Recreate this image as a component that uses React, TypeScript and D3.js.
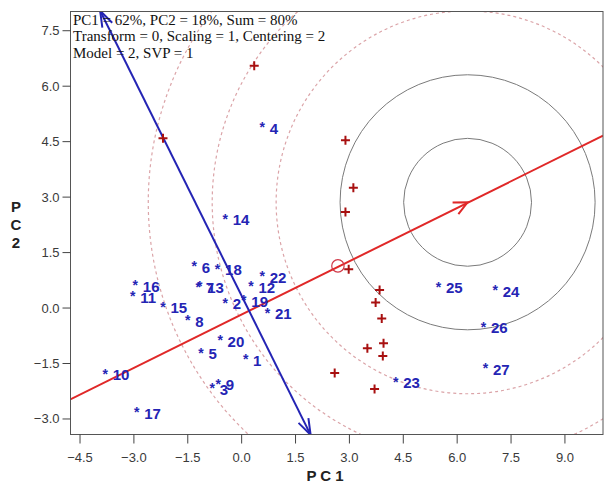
import React from "react";
import * as d3 from "d3";

// ---- data ----
const xTicks = [-4.5, -3.0, -1.5, 0.0, 1.5, 3.0, 4.5, 6.0, 7.5, 9.0];
const yTicks = [-3.0, -1.5, 0.0, 1.5, 3.0, 4.5, 6.0, 7.5];

const sampleIds = ["1","2","3","4","5","6","7","8","9","10","11","12","13","14","15","16","17","18","19","20","21","22","23","24","25","26","27"];
const sampleX = [0.11,-0.46,-0.82,0.57,-1.13,-1.32,-1.21,-1.50,-0.65,-3.80,-3.03,0.26,-1.17,-0.46,-2.19,-2.96,-2.92,-0.67,0.06,-0.60,0.72,0.57,4.29,7.06,5.48,6.73,6.79];
const sampleY = [-1.29,0.24,-2.08,4.99,-1.12,1.22,0.67,-0.23,-1.95,-1.68,0.42,0.68,0.69,2.51,0.13,0.71,-2.73,1.16,0.31,-0.78,-0.03,0.95,-1.90,0.58,0.67,-0.41,-1.54];

const varX = [0.35,-2.19,2.89,3.11,2.89,2.98,3.84,3.73,3.90,3.95,3.50,3.93,2.59,3.70];
const varY = [6.55,4.59,4.54,3.25,2.60,1.05,0.49,0.15,-0.28,-0.95,-1.09,-1.30,-1.76,-2.19];

// predicted-response axis (red) and response axis (blue)
const redAxisX = [-4.77, 10.06];
const redAxisY = [-2.47, 4.66];
const targetPoint = [6.29, 2.86];
const markedPoint = [2.68, 1.14];
const blueAxisX = [-3.94, 1.92];
const blueAxisY = [8.04, -3.43];

const solidRadii = [1.78, 3.55];
const dashedRadii = [5.33, 7.11, 8.89];

const infoLines = [
  "PC1 = 62%, PC2 = 18%, Sum = 80%",
  "Transform = 0, Scaling = 1, Centering = 2",
  "Model = 2, SVP = 1",
];

// ---- layout ----
const W = 604, H = 484;
const L = 70.5, R = 603, T = 11.5, B = 434.5;

const BLUE = "#2424b4";
const RED = "#e02828";
const DARKRED = "#a81010";

function arrowHead(tip: [number, number], from: [number, number], len: number, ang: number) {
  const a = Math.atan2(tip[1] - from[1], tip[0] - from[0]);
  const p1 = [tip[0] - len * Math.cos(a - ang), tip[1] - len * Math.sin(a - ang)];
  const p2 = [tip[0] - len * Math.cos(a + ang), tip[1] - len * Math.sin(a + ang)];
  return `M${p1[0]},${p1[1]}L${tip[0]},${tip[1]}L${p2[0]},${p2[1]}`;
}

export default function App() {
  const x = d3.scaleLinear().domain([-4.765, 10.06]).range([L, R]);
  const y = d3.scaleLinear().domain([-3.42, 8.02]).range([B, T]);
  const fmt = d3.format(".1f");
  const cx = x(targetPoint[0]), cy = y(targetPoint[1]);
  const pxPerUnit = x(1) - x(0);

  const rA: [number, number] = [x(redAxisX[0]), y(redAxisY[0])];
  const rB: [number, number] = [x(redAxisX[1]), y(redAxisY[1])];
  const bA: [number, number] = [x(blueAxisX[0]), y(blueAxisY[0])];
  const bB: [number, number] = [x(blueAxisX[1]), y(blueAxisY[1])];

  return (
    <svg width={W} height={H} style={{ position: "absolute", left: 0, top: 0, background: "#fff" }}>
      <defs>
        <clipPath id="plotclip">
          <rect x={L} y={T} width={R - L} height={B - T} />
        </clipPath>
      </defs>
      <rect x={0} y={0} width={W} height={H} fill="#fff" />

      <g clipPath="url(#plotclip)">
        {dashedRadii.map((r, i) => (
          <circle key={"d" + i} cx={cx} cy={cy} r={r * pxPerUnit} fill="none" stroke="#dba4a8" strokeWidth={1.2} strokeDasharray="3,3" />
        ))}
        {solidRadii.map((r, i) => (
          <circle key={"s" + i} cx={cx} cy={cy} r={r * pxPerUnit} fill="none" stroke="#7a7a7a" strokeWidth={1} />
        ))}
        <line x1={rA[0]} y1={rA[1]} x2={rB[0]} y2={rB[1]} stroke={RED} strokeWidth={2} />
        <path d={arrowHead([cx, cy], rA, 15, 0.45)} fill="none" stroke={RED} strokeWidth={2} />
        <circle cx={x(markedPoint[0])} cy={y(markedPoint[1])} r={6.2} fill="none" stroke="#d03848" strokeWidth={1.2} />
        <line x1={bA[0]} y1={bA[1]} x2={bB[0]} y2={bB[1]} stroke={BLUE} strokeWidth={2} />
        <path d={arrowHead(bA, bB, 17, 0.33)} fill="none" stroke={BLUE} strokeWidth={2} />
        <path d={arrowHead(bB, bA, 17, 0.33)} fill="none" stroke={BLUE} strokeWidth={2} />

        {varX.map((vx, i) => {
          const px = x(vx), py = y(varY[i]);
          return (
            <path key={"v" + i} d={`M${px - 4.5},${py}H${px + 4.5}M${px},${py - 4.5}V${py + 4.5}`} stroke={DARKRED} strokeWidth={2} />
          );
        })}

        {sampleIds.map((id, i) => {
          const px = x(sampleX[i]), py = y(sampleY[i]);
          return (
            <g key={"p" + id} fontFamily="'Liberation Sans', Arial, sans-serif" fontWeight="bold" fill={BLUE}>
              <text x={px} y={py + 8.5} fontSize={14} textAnchor="middle">*</text>
              <text x={px + 7.5} y={py + 10} fontSize={15}>{id}</text>
            </g>
          );
        })}
      </g>

      <rect x={L} y={T} width={R - L} height={B - T} fill="none" stroke="#555" strokeWidth={1} />

      <g fontFamily="'Liberation Sans', Arial, sans-serif" fontSize={13} fill="#3a3a3a">
        {xTicks.map((t) => (
          <g key={"xt" + t}>
            <line x1={x(t)} x2={x(t)} y1={B} y2={B + 9} stroke="#444" />
            <text x={x(t)} y={B + 27} textAnchor="middle">{fmt(t)}</text>
          </g>
        ))}
        {yTicks.map((t) => (
          <g key={"yt" + t}>
            <line x1={L - 8} x2={L} y1={y(t)} y2={y(t)} stroke="#444" />
            <text x={L - 11} y={y(t) + 4.5} textAnchor="end">{fmt(t)}</text>
          </g>
        ))}
      </g>

      <text x={325} y={481} textAnchor="middle" fontFamily="'Liberation Sans', Arial, sans-serif" fontWeight="bold" fontSize={15} fill="#222">P C 1</text>
      <g fontFamily="'Liberation Sans', Arial, sans-serif" fontWeight="bold" fontSize={15} fill="#222" textAnchor="middle">
        <text x={16} y={211.5}>P</text>
        <text x={16} y={229.5}>C</text>
        <text x={16} y={247.5}>2</text>
      </g>

      <g fontFamily="'Liberation Serif', 'Times New Roman', serif" fontSize={15} fill="#111">
        {infoLines.map((s, i) => (
          <text key={"i" + i} x={73} y={25 + i * 16.3}>{s}</text>
        ))}
      </g>
    </svg>
  );
}
